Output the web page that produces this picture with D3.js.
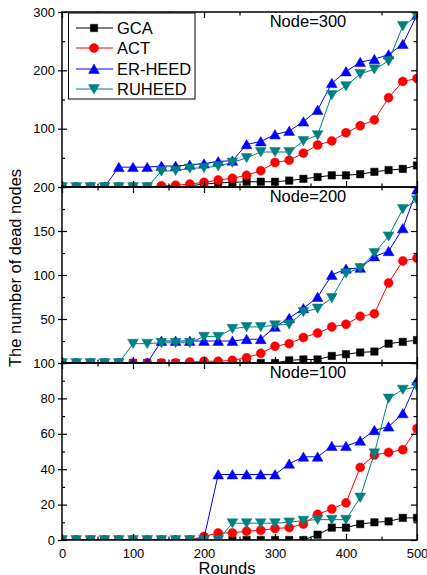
<!DOCTYPE html>
<html>
<head>
<meta charset="utf-8">
<script src="https://cdn.jsdelivr.net/npm/d3@7"></script>
<style>
  body { margin: 0; background: #fff; }
  svg { display: block; font-family: Arial, "Liberation Sans", sans-serif; }
</style>
</head>
<body>
<div id="chart"></div>
<script>
// x values (rounds), same for every series
const rounds = [0, 20, 40, 60, 80, 100, 120, 140, 160, 180, 200, 220, 240, 260, 280, 300, 320, 340, 360, 380, 400, 420, 440, 460, 480, 500]
const seriesNames = ["GCA", "ACT", "ER-HEED", "RUHEED"]

// Node=300
const gca300 = [0, 0, 0, 0, 0, 0, 0, 0, 0, 2, 5, 7, 8, 9, 9, 9, 11, 14, 17, 20, 20, 22, 26, 29, 31, 37]
const act300 = [0, 0, 0, 0, 0, 0, 0, 2, 3, 5, 8, 12, 15, 20, 28, 42, 46, 58, 72, 79, 93, 105, 115, 153, 181, 186]
const erheed300 = [0, 0, 0, 0, 34, 34, 34, 36, 36, 38, 40, 44, 45, 73, 78, 90, 96, 112, 132, 178, 198, 214, 219, 227, 245, 295]
const ruheed300 = [0, 0, 0, 0, 0, 0, 0, 27, 28, 32, 33, 36, 42, 50, 60, 60, 60, 79, 89, 158, 173, 194, 202, 216, 276, 293]

// Node=200
const gca200 = [0, 0, 0, 0, 0, 0, 0, 0, 0, 0, 0, 0, 0, 0, 0, 0, 3, 4, 4, 8, 10, 12, 13, 22, 24, 26]
const act200 = [0, 0, 0, 0, 0, 0, 0, 0, 0, 1, 2, 2, 3, 6, 11, 19, 22, 29, 34, 41, 44, 53, 56, 91, 116, 119]
const erheed200 = [0, 0, 0, 0, 0, 0, 0, 25, 25, 25, 25, 25, 25, 27, 27, 41, 51, 62, 75, 100, 107, 108, 121, 127, 153, 197]
const ruheed200 = [0, 0, 0, 0, 0, 22, 22, 23, 23, 23, 30, 30, 39, 41, 41, 43, 44, 58, 62, 74, 102, 108, 125, 144, 175, 185]

// Node=100
const gca100 = [0, 0, 0, 0, 0, 0, 0, 0, 0, 0, 0, 0, 0, 0, 0, 0, 0, 0, 3, 7, 7, 9, 10, 10.5, 12.5, 12.5]
const act100 = [0, 0, 0, 0, 0, 0, 0, 0, 0, 0, 2, 4, 4, 5, 5.5, 6.5, 7, 9, 14.5, 17.5, 21, 41, 48, 49.5, 51, 63]
const erheed100 = [0, 0, 0, 0, 0, 0, 0, 0, 0, 0, 1, 37, 37, 37, 37, 37, 43, 47, 47, 53, 53, 56, 62, 64, 71.5, 90]
const ruheed100 = [0, 0, 0, 0, 0, 0, 0, 0, 0, 0, 0, 0, 9.5, 9.5, 9.5, 9.5, 10, 11, 11.5, 11.5, 11.5, 24, 49, 80, 85, 86.5]

const colors = ["#000000", "#ff0000", "#0000ff", "#008080"]
const shapes = ["square", "circle", "up", "down"]

var width = 427
var height = 575
var left = 62, right = 417

var svg = d3.select("#chart").append("svg")
    .attr("width", width)
    .attr("height", height)

var x = d3.scaleLinear().domain([0, 500]).range([left, right])

var panels = [
    { label: "Node=300", top: 12, bottom: 187, max: 300, major: 100, minor: 50, series: [gca300, act300, erheed300, ruheed300] },
    { label: "Node=200", top: 187, bottom: 363, max: 200, major: 50, minor: 25, series: [gca200, act200, erheed200, ruheed200] },
    { label: "Node=100", top: 363, bottom: 540, max: 100, major: 20, minor: 10, series: [gca100, act100, erheed100, ruheed100] }
]

function markerPath(shape) {
    switch (shape) {
        case "square":
            return "M-3.7,-3.7H3.7V3.7H-3.7Z"
        case "circle":
            return "M4.5,0A4.5,4.5 0 1,1 -4.5,0A4.5,4.5 0 1,1 4.5,0Z"
        case "up":
            return "M0,-4.9L5.4,4.4L-5.4,4.4Z"
        case "down":
            return "M0,4.9L5.4,-4.4L-5.4,-4.4Z"
    }
}

var xMajor = [0, 100, 200, 300, 400, 500]
var xMinor = [50, 150, 250, 350, 450]

panels.forEach(function (p, pi) {
    var y = d3.scaleLinear().domain([0, p.max]).range([p.bottom, p.top])
    var majors = d3.range(0, p.max + 1, p.major)
    var minors = d3.range(p.minor, p.max, p.major)

    var clipId = "clip" + pi
    svg.append("clipPath").attr("id", clipId)
        .append("rect")
        .attr("x", left).attr("y", p.top)
        .attr("width", right - left).attr("height", p.bottom - p.top)

    var g = svg.append("g").attr("clip-path", "url(#" + clipId + ")")

    p.series.forEach(function (values, si) {
        var pts = rounds.map((r, i) => [x(r), y(values[i])])
        g.append("path")
            .attr("d", d3.line()(pts))
            .style("fill", "none")
            .style("stroke", colors[si])
            .style("stroke-width", "1px")
        g.selectAll(".m" + si)
            .data(pts).enter()
            .append("path")
            .attr("transform", d => "translate(" + d[0] + "," + d[1] + ")")
            .attr("d", markerPath(shapes[si]))
            .style("fill", colors[si])
            .style("stroke", colors[si])
            .style("stroke-width", "0.5px")
    })

    // frame
    svg.append("rect")
        .attr("x", left).attr("y", p.top)
        .attr("width", right - left).attr("height", p.bottom - p.top)
        .style("fill", "none")
        .style("stroke", "#000")
        .style("stroke-width", "1.5px")

    // left axis, labels (the 0 is shared with the panel below)
    var shown = pi == panels.length - 1 ? majors : majors.filter(v => v != 0)
    svg.append("g")
        .attr("transform", "translate(" + left + ",0)")
        .call(d3.axisLeft(y).tickValues(majors).tickSize(4).tickPadding(3)
            .tickFormat(v => shown.indexOf(v) >= 0 ? v : ""))
    svg.append("g")
        .attr("transform", "translate(" + left + ",0)")
        .call(d3.axisRight(y).tickValues(majors).tickSize(5).tickFormat(""))
    svg.append("g")
        .attr("transform", "translate(" + left + ",0)")
        .call(d3.axisRight(y).tickValues(minors).tickSize(3).tickFormat(""))

    // right axis, inward
    svg.append("g")
        .attr("transform", "translate(" + right + ",0)")
        .call(d3.axisLeft(y).tickValues(majors).tickSize(6).tickFormat(""))
    svg.append("g")
        .attr("transform", "translate(" + right + ",0)")
        .call(d3.axisLeft(y).tickValues(minors).tickSize(3.5).tickFormat(""))

    // top and bottom, inward
    svg.append("g")
        .attr("transform", "translate(0," + p.top + ")")
        .call(d3.axisBottom(x).tickValues(xMajor).tickSize(6).tickFormat(""))
    svg.append("g")
        .attr("transform", "translate(0," + p.top + ")")
        .call(d3.axisBottom(x).tickValues(xMinor).tickSize(3.5).tickFormat(""))
    svg.append("g")
        .attr("transform", "translate(0," + p.bottom + ")")
        .call(d3.axisTop(x).tickValues(xMajor).tickSize(6).tickFormat(""))
    svg.append("g")
        .attr("transform", "translate(0," + p.bottom + ")")
        .call(d3.axisTop(x).tickValues(xMinor).tickSize(3.5).tickFormat(""))

    // panel title on a white box (hides the ticks under it)
    svg.append("rect")
        .attr("x", 268).attr("y", p.top + 1)
        .attr("width", 80).attr("height", 17)
        .style("fill", "#fff")
    svg.append("text")
        .attr("x", 308)
        .attr("y", p.top + 14.5)
        .style("text-anchor", "middle")
        .style("font-size", "16.5px")
        .style("fill", "#000")
        .text(p.label)
})

// x tick labels
svg.append("g")
    .attr("transform", "translate(0,540)")
    .call(d3.axisBottom(x).tickValues(xMajor).tickSize(0).tickPadding(8.5))

svg.selectAll(".domain").remove()
svg.selectAll(".tick line").style("stroke", "#000").style("stroke-width", "1.2px")
svg.selectAll(".tick text").style("font-size", "13px").style("fill", "#000")
    .style("font-family", "Arial, 'Liberation Sans', sans-serif")

// axis titles
svg.append("text")
    .attr("x", 227).attr("y", 573.5)
    .style("text-anchor", "middle")
    .style("font-size", "16.5px")
    .text("Rounds")
svg.append("text")
    .attr("transform", "translate(21,268) rotate(-90)")
    .style("text-anchor", "middle")
    .style("font-size", "16.5px")
    .text("The number of dead nodes")

// legend
var legend = svg.append("g")
legend.append("rect")
    .attr("x", 68.5).attr("y", 13)
    .attr("width", 126.5).attr("height", 86)
    .style("fill", "#fff")
    .style("stroke", "#000")
    .style("stroke-width", "1px")
var legendY = [28, 48, 69, 89]
seriesNames.forEach(function (name, i) {
    legend.append("line")
        .attr("x1", 76).attr("x2", 113)
        .attr("y1", legendY[i]).attr("y2", legendY[i])
        .style("stroke", colors[i])
        .style("stroke-width", "1px")
    legend.append("path")
        .attr("transform", "translate(94," + legendY[i] + ")")
        .attr("d", markerPath(shapes[i]))
        .style("fill", colors[i])
        .style("stroke", colors[i])
        .style("stroke-width", "0.5px")
    legend.append("text")
        .attr("x", 117).attr("y", legendY[i] + 6)
        .style("font-size", "16.5px")
        .text(name)
})
</script>
</body>
</html>
